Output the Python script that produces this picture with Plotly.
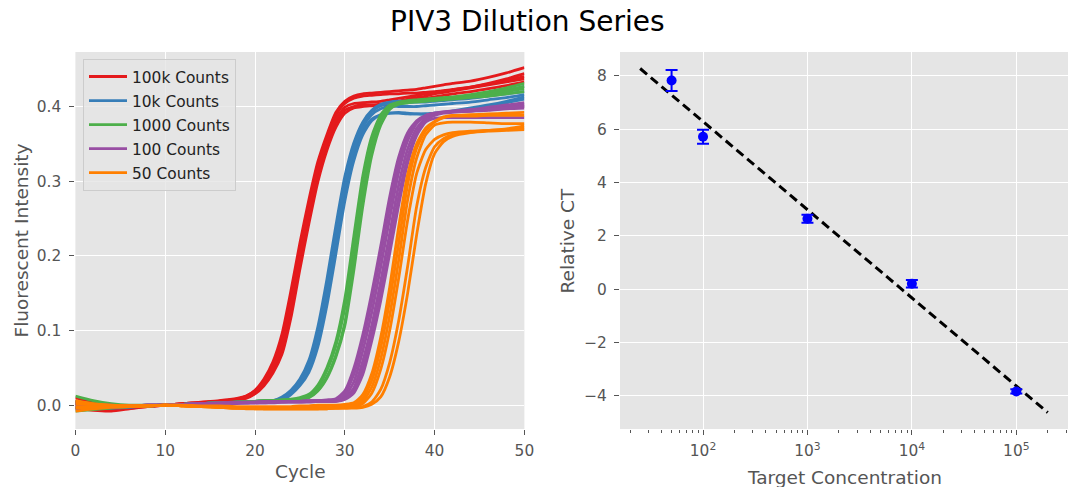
import plotly.graph_objects as go

# ---------------- data ----------------
CYCLES = [0, 2, 4, 6, 8, 10, 12, 14, 16, 18,
          19, 20, 21, 22, 23, 24, 25, 26, 27, 28, 29, 30,
          31, 32, 33, 34, 35, 36, 37, 38, 39, 40, 41, 42,
          44, 46, 48, 50]

GROUP_NAMES = ["100k Counts", "10k Counts", "1000 Counts", "100 Counts", "50 Counts"]
GROUP_COLORS = ["#E41A1C", "#377EB8", "#4DAF4A", "#984EA3", "#FF7F00"]

red_curves = [
    [0.006, -0.002, -0.004, -0.003, -0.001, 0.000, 0.002, 0.003, 0.005, 0.008,
     0.012, 0.020, 0.035, 0.058, 0.095, 0.153, 0.217, 0.275, 0.326, 0.362, 0.392, 0.407,
     0.414, 0.417, 0.418, 0.419, 0.420, 0.421, 0.422, 0.423, 0.425, 0.427, 0.429, 0.431,
     0.434, 0.439, 0.445, 0.452],
    [0.002, -0.004, -0.006, -0.004, -0.002, 0.000, 0.002, 0.004, 0.006, 0.009,
     0.012, 0.019, 0.033, 0.054, 0.086, 0.143, 0.207, 0.266, 0.320, 0.358, 0.388, 0.404,
     0.411, 0.414, 0.415, 0.416, 0.417, 0.417, 0.418, 0.418, 0.419, 0.420, 0.421, 0.422,
     0.426, 0.431, 0.437, 0.444],
    [-0.004, -0.007, -0.008, -0.005, -0.002, 0.000, 0.002, 0.003, 0.005, 0.008,
     0.010, 0.016, 0.028, 0.047, 0.075, 0.128, 0.193, 0.253, 0.310, 0.347, 0.378, 0.395,
     0.400, 0.402, 0.402, 0.403, 0.405, 0.407, 0.410, 0.412, 0.414, 0.417, 0.419, 0.421,
     0.425, 0.429, 0.433, 0.437],
    [0.010, 0.003, -0.002, -0.002, -0.001, 0.000, 0.001, 0.003, 0.005, 0.007,
     0.009, 0.015, 0.026, 0.043, 0.068, 0.117, 0.182, 0.243, 0.299, 0.341, 0.372, 0.391,
     0.398, 0.400, 0.401, 0.402, 0.403, 0.405, 0.407, 0.409, 0.411, 0.413, 0.415, 0.417,
     0.420, 0.424, 0.428, 0.433],
    [0.004, -0.001, -0.004, -0.003, -0.001, 0.000, 0.002, 0.003, 0.005, 0.008,
     0.011, 0.017, 0.030, 0.050, 0.080, 0.135, 0.200, 0.260, 0.315, 0.352, 0.383, 0.399,
     0.404, 0.405, 0.406, 0.407, 0.409, 0.411, 0.413, 0.415, 0.417, 0.419, 0.421, 0.423,
     0.426, 0.430, 0.435, 0.440],
]

blue_curves = [
    [0.005, 0.001, -0.002, -0.002, -0.001, 0.000, 0.001, 0.002, 0.003, 0.004,
     0.005, 0.005, 0.006, 0.006, 0.011, 0.020, 0.035, 0.060, 0.105, 0.168, 0.240, 0.306,
     0.351, 0.379, 0.395, 0.403, 0.406, 0.407, 0.407, 0.408, 0.408, 0.409, 0.410, 0.411,
     0.414, 0.418, 0.422, 0.427],
    [0.002, -0.001, -0.003, -0.002, -0.001, 0.000, 0.001, 0.002, 0.003, 0.004,
     0.004, 0.005, 0.005, 0.006, 0.009, 0.019, 0.033, 0.056, 0.099, 0.161, 0.233, 0.301,
     0.348, 0.377, 0.393, 0.401, 0.404, 0.405, 0.405, 0.406, 0.406, 0.407, 0.408, 0.409,
     0.411, 0.414, 0.417, 0.420],
    [-0.003, -0.004, -0.004, -0.003, -0.001, 0.000, 0.001, 0.002, 0.002, 0.003,
     0.003, 0.004, 0.004, 0.005, 0.007, 0.016, 0.028, 0.047, 0.084, 0.143, 0.215, 0.287,
     0.337, 0.367, 0.383, 0.389, 0.391, 0.391, 0.390, 0.390, 0.390, 0.391, 0.392, 0.394,
     0.398, 0.402, 0.407, 0.413],
    [0.000, -0.002, -0.003, -0.002, -0.001, 0.000, 0.001, 0.002, 0.003, 0.003,
     0.004, 0.004, 0.005, 0.005, 0.006, 0.014, 0.026, 0.044, 0.078, 0.133, 0.202, 0.273,
     0.327, 0.362, 0.381, 0.389, 0.391, 0.392, 0.391, 0.390, 0.390, 0.391, 0.392, 0.393,
     0.396, 0.400, 0.405, 0.410],
    [0.003, 0.000, -0.002, -0.002, -0.001, 0.000, 0.001, 0.002, 0.003, 0.004,
     0.004, 0.005, 0.005, 0.006, 0.008, 0.017, 0.030, 0.050, 0.090, 0.150, 0.222, 0.293,
     0.342, 0.372, 0.389, 0.397, 0.400, 0.400, 0.400, 0.400, 0.401, 0.402, 0.403, 0.404,
     0.406, 0.409, 0.412, 0.416],
]

green_curves = [
    [0.012, 0.006, 0.002, 0.000, 0.000, 0.000, 0.001, 0.002, 0.003, 0.004,
     0.005, 0.005, 0.006, 0.006, 0.007, 0.008, 0.010, 0.0145, 0.027, 0.050, 0.085, 0.142,
     0.226, 0.307, 0.360, 0.389, 0.402, 0.406, 0.408, 0.409, 0.410, 0.411, 0.412, 0.413,
     0.416, 0.420, 0.425, 0.431],
    [-0.008, -0.006, -0.004, -0.002, -0.001, 0.000, 0.001, 0.002, 0.003, 0.004,
     0.004, 0.005, 0.005, 0.006, 0.006, 0.007, 0.008, 0.013, 0.024, 0.046, 0.079, 0.130,
     0.214, 0.298, 0.355, 0.387, 0.401, 0.405, 0.407, 0.408, 0.409, 0.410, 0.411, 0.412,
     0.414, 0.418, 0.422, 0.427],
    [0.005, 0.002, 0.000, -0.001, 0.000, 0.000, 0.001, 0.002, 0.003, 0.004,
     0.005, 0.005, 0.006, 0.006, 0.007, 0.007, 0.008, 0.011, 0.020, 0.038, 0.067, 0.110,
     0.194, 0.281, 0.345, 0.382, 0.399, 0.404, 0.406, 0.407, 0.408, 0.409, 0.410, 0.411,
     0.413, 0.416, 0.420, 0.424],
    [-0.004, -0.004, -0.003, -0.002, -0.001, 0.000, 0.001, 0.002, 0.003, 0.003,
     0.004, 0.004, 0.005, 0.005, 0.006, 0.006, 0.007, 0.010, 0.019, 0.036, 0.064, 0.106,
     0.180, 0.266, 0.334, 0.375, 0.396, 0.403, 0.405, 0.406, 0.407, 0.408, 0.409, 0.410,
     0.412, 0.414, 0.417, 0.420],
]

purple_curves = [
    [0.004, 0.001, -0.001, -0.001, 0.000, 0.000, 0.001, 0.002, 0.003, 0.004,
     0.004, 0.004, 0.005, 0.005, 0.005, 0.005, 0.005, 0.006, 0.006, 0.007, 0.0085, 0.019,
     0.049, 0.094, 0.150, 0.213, 0.279, 0.332, 0.365, 0.381, 0.388, 0.391, 0.393, 0.394,
     0.396, 0.399, 0.402, 0.405],
    [-0.003, -0.003, -0.002, -0.001, 0.000, 0.000, 0.001, 0.002, 0.003, 0.003,
     0.004, 0.004, 0.004, 0.005, 0.005, 0.005, 0.005, 0.006, 0.006, 0.006, 0.0076, 0.016,
     0.041, 0.085, 0.139, 0.201, 0.266, 0.323, 0.360, 0.379, 0.388, 0.391, 0.392, 0.393,
     0.395, 0.397, 0.400, 0.403],
    [0.001, 0.000, -0.001, -0.001, 0.000, 0.000, 0.001, 0.002, 0.002, 0.003,
     0.003, 0.004, 0.004, 0.004, 0.005, 0.005, 0.005, 0.005, 0.006, 0.006, 0.0066, 0.012,
     0.031, 0.0725, 0.124, 0.185, 0.250, 0.312, 0.354, 0.377, 0.387, 0.390, 0.392, 0.393,
     0.394, 0.396, 0.398, 0.400],
    [-0.005, -0.004, -0.003, -0.002, -0.001, 0.000, 0.001, 0.002, 0.002, 0.003,
     0.003, 0.003, 0.004, 0.004, 0.004, 0.005, 0.005, 0.005, 0.005, 0.005, 0.0057, 0.0094,
     0.023, 0.059, 0.107, 0.166, 0.230, 0.295, 0.343, 0.371, 0.384, 0.389, 0.392, 0.393,
     0.394, 0.395, 0.397, 0.398],
    [0.003, 0.001, 0.000, -0.001, 0.000, 0.000, 0.001, 0.001, 0.002, 0.003,
     0.003, 0.003, 0.003, 0.004, 0.004, 0.004, 0.004, 0.005, 0.005, 0.005, 0.005, 0.0084,
     0.019, 0.049, 0.095, 0.151, 0.214, 0.279, 0.332, 0.365, 0.382, 0.388, 0.391, 0.392,
     0.394, 0.396, 0.398, 0.401],
    [0.000, -0.001, -0.001, -0.001, 0.000, 0.000, 0.001, 0.001, 0.002, 0.002,
     0.003, 0.003, 0.003, 0.003, 0.004, 0.004, 0.004, 0.004, 0.005, 0.005, 0.005, 0.0075,
     0.016, 0.041, 0.086, 0.140, 0.203, 0.268, 0.324, 0.361, 0.379, 0.384, 0.385, 0.385,
     0.385, 0.385, 0.385, 0.385],
]

orange_curves = [
    [0.006, 0.002, 0.000, -0.001, -0.001, 0.000, 0.000, -0.001, -0.001, -0.002,
     -0.002, -0.002, -0.002, -0.002, -0.002, -0.002, -0.001, -0.001, 0.000, 0.000, 0.000, 0.001,
     0.003, 0.014, 0.042, 0.091, 0.158, 0.239, 0.309, 0.350, 0.371, 0.380, 0.386, 0.388,
     0.389, 0.390, 0.391, 0.392],
    [-0.008, -0.005, -0.003, -0.002, -0.001, 0.000, -0.001, -0.002, -0.002, -0.003,
     -0.003, -0.003, -0.003, -0.003, -0.003, -0.003, -0.003, -0.002, -0.002, -0.001, -0.001, 0.000,
     0.001, 0.009, 0.033, 0.077, 0.140, 0.217, 0.296, 0.344, 0.368, 0.379, 0.385, 0.387,
     0.387, 0.388, 0.388, 0.388],
    [0.002, 0.000, -0.001, -0.001, -0.001, 0.000, -0.001, -0.002, -0.003, -0.004,
     -0.004, -0.004, -0.004, -0.004, -0.004, -0.004, -0.004, -0.004, -0.003, -0.003, -0.002, -0.001,
     -0.001, 0.005, 0.024, 0.062, 0.120, 0.194, 0.275, 0.331, 0.362, 0.375, 0.378, 0.379,
     0.379, 0.378, 0.377, 0.377],
    [-0.004, -0.003, -0.002, -0.002, -0.001, 0.000, -0.001, -0.002, -0.003, -0.004,
     -0.005, -0.005, -0.005, -0.005, -0.005, -0.005, -0.005, -0.005, -0.005, -0.004, -0.004, -0.003,
     -0.002, 0.002, 0.016, 0.048, 0.100, 0.170, 0.248, 0.310, 0.342, 0.356, 0.362, 0.365,
     0.367, 0.368, 0.369, 0.371],
    [0.004, 0.001, -0.001, -0.001, -0.001, 0.000, -0.001, -0.002, -0.003, -0.004,
     -0.004, -0.005, -0.005, -0.005, -0.005, -0.005, -0.005, -0.005, -0.005, -0.005, -0.004, -0.004,
     -0.003, -0.002, 0.004, 0.021, 0.057, 0.113, 0.186, 0.266, 0.318, 0.346, 0.357, 0.362,
     0.366, 0.368, 0.370, 0.374],
    [-0.002, -0.002, -0.002, -0.001, -0.001, 0.000, -0.001, -0.002, -0.003, -0.004,
     -0.004, -0.004, -0.005, -0.005, -0.005, -0.005, -0.005, -0.005, -0.005, -0.005, -0.004, -0.004,
     -0.004, -0.003, 0.001, 0.011, 0.038, 0.085, 0.150, 0.228, 0.296, 0.337, 0.353, 0.360,
     0.365, 0.367, 0.368, 0.369],
]

ALL_GROUPS = [red_curves, blue_curves, green_curves, purple_curves, orange_curves]

# right panel
CONCENTRATION = [50, 100, 1000, 10000, 100000]
RELATIVE_CT = [7.83, 5.72, 2.64, 0.20, -3.84]
CT_ERROR = [0.39, 0.26, 0.15, 0.14, 0.08]
FIT_X = [25, 200000]
FIT_Y = [8.28, -4.63]

MAJOR_LOG_TICKS = [100, 1000, 10000, 100000]
MAJOR_LOG_TEXT = ["10<sup>2</sup>", "10<sup>3</sup>", "10<sup>4</sup>", "10<sup>5</sup>"]
MINOR_LOG_TICKS = [m * 10 ** k for k in range(1, 6) for m in range(2, 10)]

# ---------------- figure ----------------
W, H = 1072, 487
FONT = "DejaVu Sans"
GRAY = "#555555"
TICK_SIZE = 15.4
LABEL_SIZE = 18.5

fig = go.Figure()

for name, color, curves in zip(GROUP_NAMES, GROUP_COLORS, ALL_GROUPS):
    for i, ys in enumerate(curves):
        fig.add_trace(go.Scatter(
            x=CYCLES, y=ys, mode="lines", name=name, legendgroup=name,
            showlegend=(i == 0), line=dict(color=color, width=2.8, shape="spline", smoothing=0.6),
            xaxis="x", yaxis="y", hoverinfo="skip"))

fig.add_trace(go.Scatter(
    x=FIT_X, y=FIT_Y, mode="lines", showlegend=False,
    line=dict(color="black", width=3, dash="9px,5px"), xaxis="x2", yaxis="y2"))
fig.add_trace(go.Scatter(
    x=CONCENTRATION, y=RELATIVE_CT, mode="markers", showlegend=False,
    marker=dict(color="#0000FF", size=10),
    error_y=dict(type="data", array=CT_ERROR, color="#0000FF", thickness=2, width=6),
    xaxis="x2", yaxis="y2"))

def px_x(p):
    return p / W

def px_y(p):
    return 1 - p / H

common_axis = dict(
    showgrid=True, gridcolor="white", gridwidth=1.2, zeroline=False, showline=False,
    ticks="outside", ticklen=5, tickwidth=1, tickcolor=GRAY,
    tickfont=dict(family=FONT, size=TICK_SIZE, color=GRAY), automargin=False,
)

fig.update_layout(
    width=W, height=H,
    margin=dict(l=0, r=0, t=0, b=0),
    paper_bgcolor="white", plot_bgcolor="#E5E5E5",
    font=dict(family=FONT, color=GRAY),
    xaxis=dict(domain=[px_x(75.4), px_x(524.4)], range=[0, 50], tickvals=[0, 10, 20, 30, 40, 50],
               anchor="y", ticklabelstandoff=3, **common_axis),
    yaxis=dict(domain=[px_y(429), px_y(52)], range=[-0.032, 0.473], dtick=0.1, tick0=0,
               tickformat=".1f", anchor="x", ticklabelstandoff=5, **common_axis),
    xaxis2=dict(type="log", domain=[px_x(620), px_x(1068)], range=[1.205, 5.495],
                tickmode="array", tickvals=MAJOR_LOG_TICKS, ticktext=MAJOR_LOG_TEXT,
                minor=dict(tickmode="array", tickvals=MINOR_LOG_TICKS, ticks="outside",
                           ticklen=3, tickcolor=GRAY, showgrid=False),
                anchor="y2", ticklabelstandoff=3, **common_axis),
    yaxis2=dict(domain=[px_y(429), px_y(52)], range=[-5.25, 8.9], dtick=2, tick0=0,
                anchor="x2", ticklabelstandoff=4, **common_axis),
    legend=dict(x=px_x(83), y=px_y(59), xanchor="left", yanchor="top",
                bgcolor="rgba(229,229,229,0.8)", bordercolor="#CCCCCC", borderwidth=1,
                tracegroupgap=1, itemwidth=38,
                font=dict(family=FONT, size=TICK_SIZE, color="#222222")),
    showlegend=True,
)

annotations = [
    dict(text="PIV3 Dilution Series", x=px_x(527.5), y=px_y(21), xref="paper", yref="paper",
         showarrow=False, xanchor="center", yanchor="middle",
         font=dict(family=FONT, size=28, color="black")),
    dict(text="Fluorescent Intensity", x=px_x(21.5), y=px_y(241), xref="paper", yref="paper",
         showarrow=False, xanchor="center", yanchor="middle", textangle=-90,
         font=dict(family=FONT, size=LABEL_SIZE, color=GRAY)),
    dict(text="Cycle", x=px_x(300), y=px_y(471), xref="paper", yref="paper",
         showarrow=False, xanchor="center", yanchor="middle",
         font=dict(family=FONT, size=LABEL_SIZE, color=GRAY)),
    dict(text="Relative CT", x=px_x(567.5), y=px_y(241), xref="paper", yref="paper",
         showarrow=False, xanchor="center", yanchor="middle", textangle=-90,
         font=dict(family=FONT, size=LABEL_SIZE, color=GRAY)),
    dict(text="Target Concentration", x=px_x(844), y=px_y(477), xref="paper", yref="paper",
         showarrow=False, xanchor="center", yanchor="middle",
         font=dict(family=FONT, size=LABEL_SIZE, color=GRAY)),
]
fig.update_layout(annotations=annotations)

fig.write_html("out.html", config={"displayModeBar": False},
               post_script="document.body.style.margin='0';")
